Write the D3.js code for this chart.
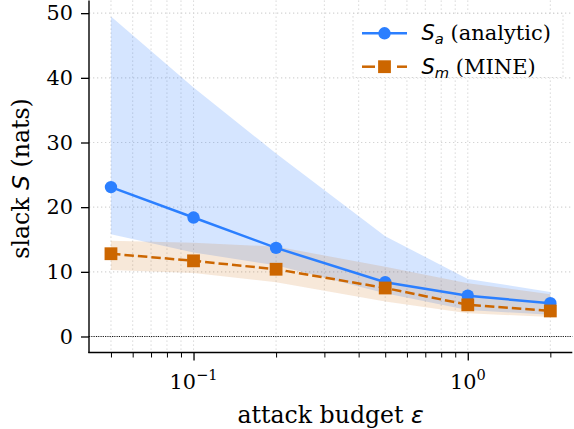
<!DOCTYPE html>
<html>
<head>
<meta charset="utf-8">
<script src="https://cdn.jsdelivr.net/npm/d3@7"></script>
<style>
  html, body { margin: 0; padding: 0; background: #fff; }
  svg { display: block; }
  text { font-family: "DejaVu Serif", serif; fill: #000; }
  .math { font-family: "DejaVu Sans", sans-serif; font-style: oblique; }
</style>
</head>
<body>
<div id="chart"></div>
<script>
// attack budgets (log x-axis)
const eps = [0.05, 0.1, 0.2, 0.5, 1, 2];

// analytic slack S_a with its spread band
const analytic   = [23.1, 18.4, 13.7, 8.4, 6.3, 5.15];
const analyticLo = [15.8, 13.0, 11.0, 6.7, 4.1, 3.35];
const analyticHi = [49.5, 38.5, 28.3, 15.5, 8.9, 6.9];

// MINE estimate S_m with its spread band
const mine   = [12.8, 11.7, 10.4, 7.5, 4.9, 3.95];
const mineLo = [10.3, 9.8, 8.4, 5.4, 3.6, 3.0];
const mineHi = [14.8, 14.5, 13.9, 10.8, 8.25, 6.55];

const yTicks = [0, 10, 20, 30, 40, 50];
const xMajor = [0.1, 1];
const xMinor = [0.05, 0.06, 0.07, 0.08, 0.09, 0.2, 0.3, 0.4, 0.5, 0.6, 0.7, 0.8, 0.9, 2];

const W = 574, H = 429;
const plotL = 89, plotR = 572.3, plotT = 0.4, plotB = 352.5;
const FS_TICK = 20.8, FS_LABEL = 23.6, FS_LEG = 21;

const blue = "#2b7fff", orange = "#cc6600";
const dashPattern = "9.5,4";

const svg = d3.select("#chart").append("svg")
  .attr("width", W).attr("height", H);

// log x-domain padded by 5% of its decade span
const lx = d3.extent(eps).map(Math.log10);
const padX = (lx[1] - lx[0]) * 0.05;
const x = d3.scaleLog()
  .domain([Math.pow(10, lx[0] - padX), Math.pow(10, lx[1] + padX)])
  .range([plotL, plotR]);

// y-domain covers the bands and the zero line, padded by 5%
const yMin = Math.min(0, d3.min(mineLo), d3.min(analyticLo));
const yMax = Math.max(d3.max(analyticHi), d3.max(mineHi));
const padY = (yMax - yMin) * 0.05;
const y = d3.scaleLinear().domain([yMin - padY, yMax + padY]).range([plotB, plotT]);

// grid
const grid = svg.append("g")
  .attr("stroke", "#d4d4d4").attr("stroke-width", 1.1)
  .attr("stroke-dasharray", "1.3,2.7");
grid.selectAll("line.gx").data(xMajor.concat(xMinor)).join("line")
  .attr("x1", d => x(d)).attr("x2", d => x(d))
  .attr("y1", plotT).attr("y2", plotB);
grid.selectAll("line.gy").data(yTicks).join("line")
  .attr("x1", plotL).attr("x2", plotR)
  .attr("y1", d => y(d)).attr("y2", d => y(d));

// zero reference line
svg.append("line")
  .attr("x1", plotL).attr("x2", plotR)
  .attr("y1", y(0)).attr("y2", y(0))
  .attr("stroke", "#111").attr("stroke-width", 1.1)
  .attr("stroke-dasharray", "1.1,1.2");

// spread bands
const area = (lo, hi) => d3.area()
  .x((d, i) => x(eps[i]))
  .y0((d, i) => y(lo[i]))
  .y1((d, i) => y(hi[i]))(eps);

svg.append("path").attr("d", area(analyticLo, analyticHi))
  .attr("fill", blue).attr("fill-opacity", 0.2);
svg.append("path").attr("d", area(mineLo, mineHi))
  .attr("fill", orange).attr("fill-opacity", 0.15);

// series lines and markers
const line = vals => d3.line()
  .x((d, i) => x(eps[i]))
  .y((d, i) => y(vals[i]))(eps);

svg.append("path").attr("d", line(analytic))
  .attr("fill", "none").attr("stroke", blue).attr("stroke-width", 2.5);
svg.selectAll("circle.sa").data(analytic).join("circle")
  .attr("cx", (d, i) => x(eps[i])).attr("cy", d => y(d))
  .attr("r", 6.2).attr("fill", blue);

svg.append("path").attr("d", line(mine))
  .attr("fill", "none").attr("stroke", orange).attr("stroke-width", 2.5)
  .attr("stroke-dasharray", dashPattern);
const sq = 12.8;
svg.selectAll("rect.sm").data(mine).join("rect")
  .attr("x", (d, i) => x(eps[i]) - sq / 2).attr("y", d => y(d) - sq / 2)
  .attr("width", sq).attr("height", sq).attr("fill", orange);

// axes
const yAxis = svg.append("g").attr("transform", `translate(${plotL},0)`)
  .call(d3.axisLeft(y).tickValues(yTicks).tickSize(8).tickPadding(8).tickSizeOuter(0));
yAxis.select(".domain").remove();
yAxis.selectAll("line").attr("stroke", "#000").attr("stroke-width", 1.3);
yAxis.selectAll("text").style("font-size", FS_TICK + "px").attr("font-family", "DejaVu Serif");

const xAxisMinor = svg.append("g").attr("transform", `translate(0,${plotB})`)
  .call(d3.axisBottom(x).tickValues(xMinor).tickSize(5).tickFormat(""));
xAxisMinor.select(".domain").remove();
xAxisMinor.selectAll("line").attr("stroke", "#000").attr("stroke-width", 1);

const xAxis = svg.append("g").attr("transform", `translate(0,${plotB})`)
  .call(d3.axisBottom(x).tickValues(xMajor).tickSize(8).tickFormat(""));
xAxis.select(".domain").remove();
xAxis.selectAll("line").attr("stroke", "#000").attr("stroke-width", 1.3);

// decade labels as 10 with a superscript exponent
const expLabel = { 0.1: "\u22121", 1: "0" };
const xl = svg.append("g");
xMajor.forEach(v => {
  const t = xl.append("text")
    .attr("x", x(v)).attr("y", 388.5)
    .attr("text-anchor", "middle")
    .style("font-size", FS_TICK + "px");
  t.append("tspan").text("10");
  t.append("tspan").attr("dy", -8.5).style("font-size", (FS_TICK * 0.7) + "px").text(expLabel[v]);
});

// spines
svg.append("line").attr("x1", plotL).attr("x2", plotL).attr("y1", plotT).attr("y2", plotB + 0.6)
  .attr("stroke", "#000").attr("stroke-width", 1.4);
svg.append("line").attr("x1", plotL - 0.7).attr("x2", plotR).attr("y1", plotB).attr("y2", plotB)
  .attr("stroke", "#000").attr("stroke-width", 1.4);

// axis titles
const xt = svg.append("text")
  .attr("x", (plotL + plotR) / 2).attr("y", 422.5)
  .attr("text-anchor", "middle").style("font-size", FS_LABEL + "px");
xt.append("tspan").text("attack budget ");
xt.append("tspan").attr("class", "math").text("\u03b5");

const yt = svg.append("text")
  .attr("transform", `translate(29,${(plotT + plotB) / 2 + 2}) rotate(-90)`)
  .attr("text-anchor", "middle").style("font-size", FS_LABEL + "px");
yt.append("tspan").text("slack ");
yt.append("tspan").attr("class", "math").text("S");
yt.append("tspan").text(" (nats)");

// legend
const lg = svg.append("g");
lg.append("rect")
  .attr("x", 353).attr("y", 13.5).attr("width", 210).attr("height", 64)
  .attr("fill", "#fff").attr("stroke", "#d4d4d4").attr("stroke-width", 1.1)
  .attr("stroke-dasharray", "1.3,2.7");

const entries = [
  { sym: "S", sub: "a", label: " (analytic)", color: blue, dashed: false, marker: "circle" },
  { sym: "S", sub: "m", label: " (MINE)", color: orange, dashed: true, marker: "square" }
];
const hx0 = 362, hx1 = 407, hxm = (hx0 + hx1) / 2;
entries.forEach((e, i) => {
  const cy = 33.3 + i * 33.4;
  if (e.dashed) {
    // dashed handle: a segment either side of the marker
    [[hx0, hx0 + 13], [hx1 - 10, hx1]].forEach(([a, b]) => {
      lg.append("line").attr("x1", a).attr("x2", b).attr("y1", cy).attr("y2", cy)
        .attr("stroke", e.color).attr("stroke-width", 2.5);
    });
  } else {
    lg.append("line").attr("x1", hx0).attr("x2", hx1).attr("y1", cy).attr("y2", cy)
      .attr("stroke", e.color).attr("stroke-width", 2.5);
  }
  if (e.marker === "circle") {
    lg.append("circle").attr("cx", hxm).attr("cy", cy).attr("r", 6.2).attr("fill", e.color);
  } else {
    lg.append("rect").attr("x", hxm - sq / 2).attr("y", cy - sq / 2)
      .attr("width", sq).attr("height", sq).attr("fill", e.color);
  }
  const t = lg.append("text").attr("x", 421.5).attr("y", cy + 7).style("font-size", FS_LEG + "px");
  t.append("tspan").attr("class", "math").text(e.sym);
  t.append("tspan").attr("class", "math").attr("dy", 4).style("font-size", (FS_LEG * 0.7) + "px").text(e.sub);
  t.append("tspan").attr("dy", -4).text(e.label);
});
</script>
</body>
</html>
